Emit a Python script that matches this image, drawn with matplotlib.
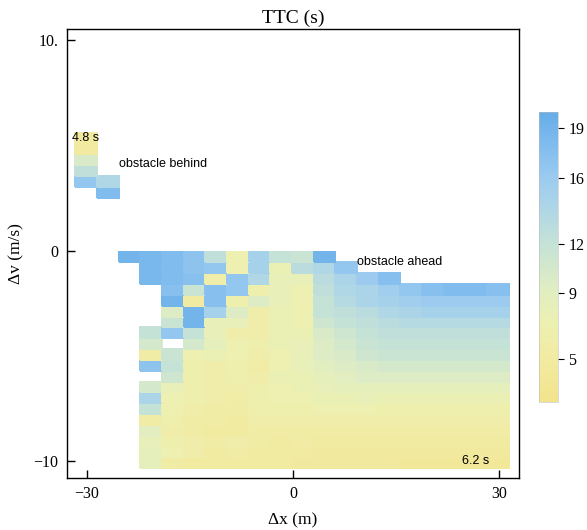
import numpy as np
import matplotlib
matplotlib.use("Agg")
import matplotlib.pyplot as plt
from matplotlib.colors import LinearSegmentedColormap, Normalize

N = np.nan

# bin edges (m, m/s)
x_lo, x_hi, n_x = -31.7, 31.4, 20
y_lo, y_hi, n_y = -10.33, 5.6, 31

# upper-left cluster (obstacle behind): rows from top, columns 0..1
behind_rows = [
    [4.8, N],
    [4.8, N],
    [10.0, N],
    [12.5, N],
    [16.5, 14.0],
    [N, 18.0],
]

# main cluster (obstacle ahead): rows from top (starting at dv ~ 0), columns 2..19
ahead_rows = [
    [19, 18.5, 18, 17, 12.5, 7, 15, 12, 11.5, 19, N, N, N, N, N, N, N, N],
    [N, 18.5, 18, 17, 16.5, 7, 15, 7.5, 13, 14, 16.5, N, N, N, N, N, N, N],
    [N, 18.5, 18, 17.5, 6, 16.5, 14, 8, 8, 13, 14.5, 16, 17.5, N, N, N, N, N],
    [N, N, 17.5, 11.5, 17.5, 16.5, 6.5, 8, 7, 12.5, 14, 14.5, 15.5, 16.5, 17.5, 18, 18, 17.5],
    [N, N, 19, 5, 17.5, 6.5, 9.5, 8, 7, 12, 13.5, 14.5, 15, 15.5, 16, 16, 16, 16],
    [N, N, 9.5, 19, 15, 9.5, 6, 7.5, 7, 12, 12.5, 13, 14, 14.5, 15, 15, 15, 15],
    [N, N, 11.5, 19, 8, 8, 6, 7.5, 7, 11, 12, 12.5, 13, 13.5, 13.5, 13.5, 13.5, 13.5],
    [N, 12, 16.5, 12, 8, 6, 6, 7.5, 7.5, 10, 11, 12, 12.5, 12.5, 12.5, 12.5, 12.5, 12.5],
    [N, 10.5, N, 10.5, 8.5, 7, 6.5, 7.5, 8, 9.5, 10.5, 11.5, 12, 12, 12, 12, 12, 12],
    [N, 5.5, 11.5, 7, 7.5, 7, 6, 7, 8, 9.5, 10, 11, 11.5, 11.5, 11.5, 11.5, 11.5, 11.5],
    [N, 17, 12, 6.5, 6, 6.5, 5.5, 7, 8, 9, 9.5, 10, 10.5, 10.5, 10.5, 10.5, 10.5, 10.5],
    [N, N, 11, 6.5, 6, 6.5, 6, 7.5, 7.5, 8.5, 9, 9.5, 9.5, 9.5, 9.5, 9.5, 9.5, 9.5],
    [N, 10.5, 8, 6.5, 6, 6, 6.5, 7, 7.5, 8, 8.5, 8.5, 8.5, 8.5, 8.5, 8.5, 8.5, 8.5],
    [N, 14.5, 7, 6.5, 6, 5.5, 6.5, 7, 7, 7.5, 7.5, 8, 7.5, 7.5, 7.5, 7.5, 7.5, 7.5],
    [N, 12, 7, 6, 5.5, 5.5, 6.5, 6.5, 6.5, 7, 7, 7, 6.5, 6.5, 6.5, 6.5, 6.5, 6.5],
    [N, 5.5, 6.5, 5.5, 5.5, 5, 6, 6, 6, 6, 6, 6, 6, 6, 6, 6, 6, 6],
    [N, 9, 6, 5.5, 5, 5, 5.5, 5.5, 5.5, 5.5, 5.5, 5.5, 5.5, 5.5, 5.5, 5.5, 5.5, 5.5],
    [N, 8, 6.5, 6, 5.5, 6, 5.5, 5, 5.5, 5, 5, 5, 5, 5, 5, 5, 5, 5],
    [N, 8.5, 7, 6, 5, 5.5, 5, 5, 5, 4.5, 4.5, 4.5, 4.5, 4.5, 4.5, 4.5, 4.5, 4.5],
    [N, 8.5, 5.5, 5, 5, 5, 5, 5, 4.5, 4.5, 4.5, 4.5, 4.5, 4, 4, 4, 4, 4],
]

vmin, vmax = 2.4, 20.0
cbar_ticks = [5, 9, 12, 16, 19]
x_ticks = [-30, 0, 30]
y_ticks = [-10, 0, 10]
y_ticklabels = ["\u221210", "0", "10."]
x_ticklabels = ["\u221230", "0", "30"]

annotations = [
    (-32.1, 5.35, "4.8 s"),
    (-25.4, 4.12, "obstacle behind"),
    (9.3, -0.55, "obstacle ahead"),
    (24.6, -9.98, "6.2 s"),
]

# assemble full grid (row 0 = top)
grid = np.full((n_y, n_x), np.nan)
grid[0:6, 0:2] = np.array(behind_rows, dtype=float)
grid[11:31, 2:20] = np.array(ahead_rows, dtype=float)
grid = grid[::-1]  # bottom row first

x_edges = np.linspace(x_lo, x_hi, n_x + 1)
y_edges = np.linspace(y_lo, y_hi, n_y + 1)

plt.rcParams['font.family'] = ['Liberation Serif', 'DejaVu Serif']
plt.rcParams['mathtext.fontset'] = 'stix'

stops = [(2.4, "#f3e48c"), (5, "#f1eba2"), (7, "#edf0b0"), (9, "#e2eec0"),
         (12, "#c5e2d7"), (14, "#b0d7e6"), (16, "#9ccbef"), (18, "#80bcee"),
         (20, "#66ace8")]
cmap = LinearSegmentedColormap.from_list(
    "ttc", [((v - vmin) / (vmax - vmin), c) for v, c in stops])
norm = Normalize(vmin=vmin, vmax=vmax)

fig = plt.figure(figsize=(5.87, 5.30), dpi=100)
ax = fig.add_axes([0.1141, 0.0981, 0.7701, 0.8472])
mesh = ax.pcolormesh(x_edges, y_edges, np.ma.masked_invalid(grid), cmap=cmap,
                     norm=norm, shading='flat', edgecolors='face', linewidth=0.3)
ax.set_xlim(-32.9, 32.9)
ax.set_ylim(-10.8, 10.52)
ax.set_xticks(x_ticks)
ax.set_xticklabels(x_ticklabels)
ax.set_yticks(y_ticks)
ax.set_yticklabels(y_ticklabels)
ax.tick_params(direction='in', length=6, width=1, labelsize=11.5, pad=6)
for s in ax.spines.values():
    s.set_linewidth(1.0)
ax.set_title("TTC (s)", fontsize=14, pad=4)
ax.set_xlabel("\u0394x (m)", fontsize=12.5, labelpad=7)
ax.set_ylabel("\u0394v (m/s)", fontsize=12.5, labelpad=7)

for x, y, t in annotations:
    ax.text(x, y, t, fontsize=9, family=['Liberation Sans', 'DejaVu Sans'],
            va='center', ha='left')

cax = fig.add_axes([0.918, 0.2421, 0.0324, 0.547])
cb = fig.colorbar(mesh, cax=cax, ticks=cbar_ticks)
cb.outline.set_linewidth(0.4)
cb.outline.set_edgecolor("#bbbbbb")
cax.tick_params(labelsize=11.5, length=4, width=0.8)

fig.savefig("out.png", dpi=100)
